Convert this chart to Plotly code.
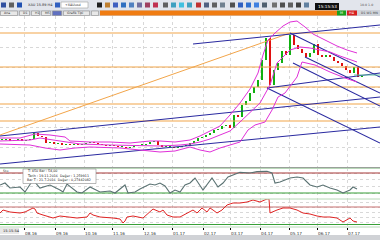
import plotly.graph_objects as go

# ---------------- data ----------------
CANDLE_X = list(range(2, 363, 4))
CLOSE = [113.5, 114, 113, 113.5, 114, 113, 113.5, 114, 117, 115.5,
         115, 112, 112.5, 111.5, 112, 111, 111.5, 111, 111.5, 111,
         111.5, 112, 112.5, 112, 111.5, 111, 110.5, 111, 110.5, 110,
         110, 109.5, 110, 110.5, 111, 111, 111.5, 112.5, 113, 111,
         110, 110, 110, 109.5, 110, 110.5, 111, 112, 113, 114.5,
         115, 116, 117, 118.5, 119, 120.5, 121, 119.5, 126, 125,
         131, 133, 137, 140, 143.5, 153.5, 164.5, 141, 148.5, 152,
         158, 156, 166, 161, 159, 157, 155, 157, 161.5, 156,
         155, 156, 155, 153, 152, 150.5, 148.5, 147, 150, 145, 145.5]

UPPER_X = [0, 20, 35, 50, 65, 70, 90, 110, 130, 150, 160, 175, 190, 200, 210, 220,
           230, 240, 250, 258, 263, 268, 275, 283, 290, 297, 305, 313, 325, 337, 347, 357]
UPPER = [114.5, 114.5, 116.5, 116, 115, 113, 112.5, 112.5, 112, 113, 113, 112.5, 113.5, 115.5,
         118, 120.5, 126, 132, 139, 147, 156, 163.5, 167, 170.5, 172.5, 173, 170, 166.5,
         163.5, 160.5, 158.5, 157]

MID_X = [0, 30, 40, 60, 80, 110, 140, 160, 180, 190, 200, 210, 220, 230, 240, 250,
         260, 270, 277, 290, 300, 310, 320, 330, 340, 350, 357]
MID = [113, 113.5, 114.5, 113, 111.5, 111, 110.5, 110.5, 111, 111.5, 112.5, 114, 116, 118,
       122.5, 127, 132, 141, 152, 158.5, 160, 159.5, 158.5, 157.5, 155.5, 153.5, 152.5]

LOWER_X = [0, 30, 45, 60, 75, 90, 120, 150, 160, 175, 190, 200, 210, 220, 230, 240,
           248, 255, 265, 272, 278, 285, 297, 302, 315, 330, 345, 357]
LOWER = [111.5, 111, 109.5, 108.5, 109.5, 110, 109.5, 108, 107.5, 108, 110, 108.5, 107.5,
         109.5, 111, 112.5, 118.5, 121, 122.5, 128.5, 135, 137, 145, 152.5, 151, 147.5,
         144.5, 142.5]

# trend lines: (x0, price0, x1, price1)
BLUE_LINES = [(193, 161.5, 380, 171), (0, 115.5, 380, 135), (0, 101.5, 380, 120),
              (267, 139.5, 380, 147), (290, 167, 380, 145), (305, 155, 380, 137),
              (293, 152, 380, 130.5), (267, 139.5, 380, 112)]
FIB_LEVELS = [167, 150, 140, 131.5, 123]
ORANGE_DIAG_X = [0, 290]
ORANGE_DIAG_Y = [116, 167]
BID_PRICE = 146

OSC1_X = [0, 5, 10, 20, 25, 33, 40, 50, 60, 63, 67, 72, 77, 82, 90, 100, 110, 115, 125, 128,
          135, 140, 150, 155, 160, 165, 170, 175, 180, 185, 190, 195, 203, 212, 218, 223, 228,
          233, 240, 250, 257, 267, 272, 275, 280, 290, 297, 303, 310, 317, 323, 330, 337, 343,
          350, 353, 357]
OSC1 = [44, 50, 35, 38, 23, 59, 35, 44, 29, 23, 47, 35, 23, 20, 38, 23, 26, 20, 44, 20,
        23, 32, 47, 44, 50, 41, 20, 29, 23, 44, 50, 65, 29, 65, 38, 50, 68,
        74, 82, 80, 84, 85, 80, 50, 53, 65, 68, 65, 44, 38, 44, 35, 29, 20,
        29, 38, 32]
OSC1_LEVELS = [80, 20]

OSC2_X = [0, 3, 10, 20, 25, 33, 35, 37, 43, 50, 53, 60, 70, 77, 87, 90, 93, 100, 113, 120,
          123, 125, 127, 133, 143, 152, 153, 160, 163, 167, 173, 180, 187, 190, 193, 197, 202,
          207, 210, 213, 217, 222, 227, 233, 240, 247, 253, 260, 267, 269, 270, 277, 283, 290,
          297, 303, 310, 317, 323, 330, 337, 343, 347, 350, 353, 357]
OSC2 = [58, 64, 60, 58, 60, 68, 66, 58, 54, 50, 48, 52, 50, 48, 50, 58, 54, 50, 48, 46,
        38, 42, 50, 52, 48, 64, 66, 60, 64, 54, 50, 50, 58, 60, 64, 58, 68,
        60, 68, 64, 58, 64, 74, 78, 78, 80, 84, 80, 86, 86, 58, 64, 68, 68,
        64, 58, 56, 52, 50, 50, 48, 40, 44, 48, 42, 40]
OSC2_LEVELS = [70, 35]

TICK_X = [24, 55, 84, 112, 143, 172, 203, 230, 260, 289, 317, 347]
TICK_TEXT = ["08.16", "09.16", "10.16", "11.16", "12.16", "01.17", "02.17", "03.17",
             "04.17", "05.17", "06.17", "07.17"]

# ---------------- figure ----------------
W, H = 380, 240
XMAX = 380


def py(px):
    return 1 - px / H


OPEN = [CLOSE[0]] + CLOSE[:-1]
BODY_BASE = [min(o, c) for o, c in zip(OPEN, CLOSE)]
BODY_H = [max(abs(c - o), 0.5) for o, c in zip(OPEN, CLOSE)]
BODY_COL = ["#10b010" if c >= o else "#e01010" for o, c in zip(OPEN, CLOSE)]

fig = go.Figure()

ORANGE = "#f2a54a"
BLUE = "#2a2aa0"
MAG = "#e030d8"

for lv in FIB_LEVELS:
    fig.add_trace(go.Scatter(x=[0, XMAX], y=[lv, lv], mode="lines",
                             line=dict(color=ORANGE, width=1.2), hoverinfo="skip"))
fig.add_trace(go.Scatter(x=ORANGE_DIAG_X, y=ORANGE_DIAG_Y, mode="lines",
                         line=dict(color=ORANGE, width=1), hoverinfo="skip"))
for x0, p0, x1, p1 in BLUE_LINES:
    fig.add_trace(go.Scatter(x=[x0, x1], y=[p0, p1], mode="lines",
                             line=dict(color=BLUE, width=1.1), hoverinfo="skip"))

for bx, by in [(UPPER_X, UPPER), (MID_X, MID), (LOWER_X, LOWER)]:
    fig.add_trace(go.Scatter(x=bx, y=by, mode="lines",
                             line=dict(color=MAG, width=1), hoverinfo="skip"))

fig.add_trace(go.Bar(x=CANDLE_X, y=BODY_H, base=BODY_BASE, width=1.8,
                     marker=dict(color=BODY_COL, line=dict(width=0)), hoverinfo="skip"))
fig.add_trace(go.Scatter(x=[CANDLE_X[-3], XMAX], y=[BID_PRICE, BID_PRICE], mode="lines",
                         line=dict(color="#60c0a0", width=1), hoverinfo="skip"))

# oscillator 1
fig.add_trace(go.Scatter(x=[0, XMAX], y=[OSC1_LEVELS[0]] * 2, mode="lines", xaxis="x2",
                         yaxis="y2", line=dict(color="#a83838", width=1.2)))
fig.add_trace(go.Scatter(x=[0, XMAX], y=[OSC1_LEVELS[1]] * 2, mode="lines", xaxis="x2",
                         yaxis="y2", line=dict(color="#38a038", width=1.2)))
fig.add_trace(go.Scatter(x=OSC1_X, y=OSC1, mode="lines", xaxis="x2", yaxis="y2",
                         line=dict(color="#5a7272", width=1.1)))

# oscillator 2
fig.add_trace(go.Scatter(x=[0, XMAX], y=[OSC2_LEVELS[0]] * 2, mode="lines", xaxis="x3",
                         yaxis="y3", line=dict(color="#c87070", width=1.2)))
fig.add_trace(go.Scatter(x=[0, XMAX], y=[OSC2_LEVELS[1]] * 2, mode="lines", xaxis="x3",
                         yaxis="y3", line=dict(color="#38a038", width=1.2)))
fig.add_trace(go.Scatter(x=OSC2_X, y=OSC2, mode="lines", xaxis="x3", yaxis="y3",
                         line=dict(color="#e02424", width=1)))

grid = dict(showgrid=True, gridcolor="#d8d8d8", griddash="dot", gridwidth=1)
xcommon = dict(range=[0, XMAX], tickvals=TICK_X, zeroline=False, showline=False,
               fixedrange=True, **grid)

fig.update_layout(
    width=W, height=H, margin=dict(l=0, r=0, t=0, b=0),
    paper_bgcolor="white", plot_bgcolor="white", showlegend=False,
    font=dict(family="DejaVu Sans", size=5, color="#202020"),
    xaxis=dict(domain=[0, 1], anchor="y", showticklabels=False, **xcommon),
    yaxis=dict(domain=[py(167), py(16)], range=[100, 175.5], showticklabels=False,
               zeroline=False, dtick=10, **grid),
    xaxis2=dict(domain=[0, 1], anchor="y2", showticklabels=False, **xcommon),
    yaxis2=dict(domain=[py(199), py(168)], range=[2, 95], showticklabels=False,
                zeroline=False, dtick=20, **grid),
    xaxis3=dict(domain=[0, 1], anchor="y3", showticklabels=True, ticktext=TICK_TEXT,
                ticks="outside", ticklen=2, tickcolor="#000000", ticklabelshift=7,
                ticklabelstandoff=0,
                tickfont=dict(size=4.2, color="#303030"), **xcommon),
    yaxis3=dict(domain=[py(227), py(199)], range=[30, 86], showticklabels=False,
                zeroline=False, dtick=10, **grid),
)

shapes = []
annots = []


def rect(x0, y0, x1, y1, fill, line=None):
    shapes.append(dict(type="rect", xref="paper", yref="paper", x0=x0 / W, x1=x1 / W,
                       y0=py(y1), y1=py(y0), fillcolor=fill,
                       line=dict(width=0.6 if line else 0, color=line or fill), layer="above"))


def hline(y, color):
    shapes.append(dict(type="line", xref="paper", yref="paper", x0=0, x1=1, y0=py(y),
                       y1=py(y), line=dict(color=color, width=1)))


def text(x, y, s, size=4.5, color="#202020", anchor="left", bg=None):
    annots.append(dict(x=x / W, y=py(y), xref="paper", yref="paper", text=s,
                       showarrow=False, xanchor=anchor, yanchor="middle",
                       font=dict(size=size, color=color), bgcolor=bg))


# toolbar
rect(0, 0, 380, 10, "#e2e5ec")
rect(0, 10, 380, 16, "#cfd3da")
rect(100, 10.5, 337, 15.5, "#f07c12")
rect(337, 10.5, 346, 15.5, "#1aa01a")
rect(347, 10.5, 357, 15.5, "#d82020")
text(341.5, 13, "M", 3.5, "white", "center")
text(352, 13, "H4", 3.5, "white", "center")
text(359, 13, "D1 W1 MN", 3.2, "#404040")
for i, (xa, xb) in enumerate([(0, 18), (19, 30), (31, 40), (41, 51), (52, 62), (63, 90), (91, 99)]):
    rect(xa + 0.5, 11, xb - 0.5, 15.5, "#e8e8e8" if i != 4 else "#6070c0", "#909090")
text(2, 13, "Ana", 3.2, "#303030")
text(21, 13, "D1", 3.2, "#303030")
text(33, 13, "H1", 3.2, "#303030")
text(43, 13, "M5", 3.2, "#303030")
text(65, 13, "Grafik Tipi", 3.2, "#303030")
ICONS = [(1, "#3050a0"), (9, "#606060"), (17, "#2050b0"), (55, "#3060c0"),
         (97, "#202020"), (105, "#c08030"), (113, "#4060c0"), (121, "#3070c0"),
         (129, "#5080c0"), (137, "#7070a0"), (145, "#a04060"), (153, "#c03050"),
         (163, "#606060"), (171, "#40a0c0"), (179, "#40c0e0"), (187, "#40a0c0"),
         (196, "#c03030"), (204, "#506080"), (212, "#606060"), (220, "#708090"),
         (230, "#505050"), (238, "#3060c0"), (246, "#3070d0"), (254, "#4080e0"),
         (262, "#506070"), (272, "#707070"), (280, "#505050"), (288, "#606060"),
         (296, "#404040"), (304, "#6080a0")]
for ix, col in ICONS:
    rect(ix, 2.5, ix + 5, 7.5, col)
text(26, 5, "XAU 15.89 H4", 3.5, "#303030")
rect(61, 2, 88, 8, "#ffffff", "#a0a0a0")
text(63, 5, "+XAUusd", 3.3, "#303030")
rect(315, 3, 339, 10, "#101010")
text(327, 6.5, "15:15:53", 4.2, "white", "center")
text(358, 5, "10.0 1.0", 3.2, "#505050")

# panel separators and bottom bar
hline(167.5, "#9aa09a")
hline(168.5, "#b8d8b8")
hline(199, "#b8d8b8")
hline(227, "#b8d8b8")
rect(0, 235, 380, 240, "#d0d2d6")
rect(0, 228, 19, 234, "#e8e8e8")
text(0.5, 231, "15:15:54", 3.6, "#202020")

# tooltip box
rect(23, 169, 96, 183.5, "#ffffff", "#8a8a8a")
text(25, 171.3, "T: 450 Bar : 54,00", 3.3)
text(25, 175.8, "Tarih : 19.11.2016  Değer : 1,259911", 3.3)
text(25, 180.3, "Bar T : 21.7.2016  Değer : 0,27442082", 3.3)
text(1, 171, "Sto", 3.3, "#404040")

fig.update_layout(shapes=shapes, annotations=annots)
fig.write_html("out.html")
